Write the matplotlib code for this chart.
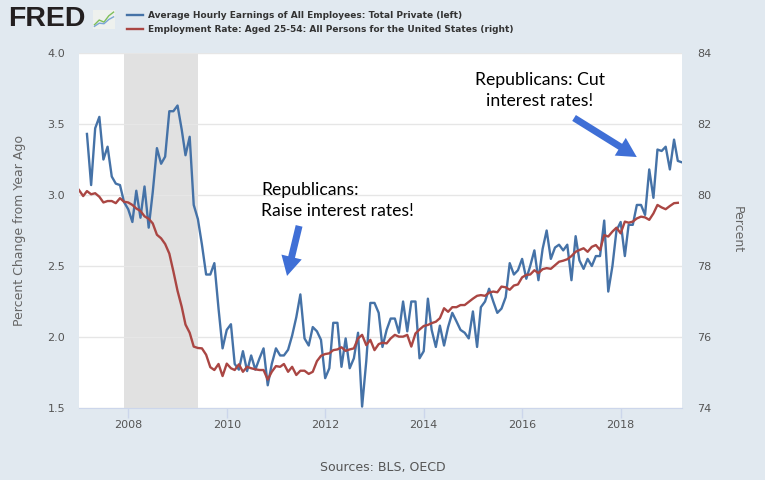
import numpy as np
import pandas as pd
import matplotlib
matplotlib.use('Agg')
import matplotlib.pyplot as plt
import matplotlib.dates as mdates

# Average Hourly Earnings, percent change from year ago (Mar 2007 - Apr 2019)
earn = [3.43, 3.07, 3.47, 3.55, 3.25, 3.34, 3.13, 3.08, 3.07, 2.95,
        2.90, 2.81, 3.03, 2.84, 3.06, 2.77, 3.02, 3.33, 3.22, 3.27, 3.59, 3.59,
        3.63, 3.46, 3.28, 3.41, 2.93, 2.83, 2.65, 2.44, 2.44, 2.52, 2.20, 1.92,
        2.05, 2.09, 1.81, 1.77, 1.90, 1.76, 1.87, 1.77, 1.85, 1.92, 1.66, 1.81,
        1.92, 1.87, 1.87, 1.91, 2.01, 2.14, 2.30, 1.99, 1.94, 2.07, 2.04, 1.98,
        1.71, 1.78, 2.10, 2.10, 1.79, 1.99, 1.78, 1.85, 2.03, 1.51, 1.83, 2.24,
        2.24, 2.17, 1.93, 2.05, 2.13, 2.13, 2.03, 2.25, 2.04, 2.25, 2.25, 1.85,
        1.90, 2.27, 2.05, 1.93, 2.08, 1.94, 2.07, 2.17, 2.11, 2.05, 2.03, 1.99,
        2.18, 1.93, 2.21, 2.25, 2.34, 2.25, 2.17, 2.20, 2.28, 2.52, 2.44, 2.47,
        2.55, 2.41, 2.50, 2.61, 2.40, 2.62, 2.75, 2.55, 2.63, 2.65, 2.61, 2.65,
        2.40, 2.71, 2.54, 2.48, 2.55, 2.50, 2.57, 2.57, 2.82, 2.32, 2.50, 2.75,
        2.81, 2.57, 2.79, 2.79, 2.93, 2.93, 2.86, 3.18, 2.98, 3.32, 3.31, 3.34,
        3.18, 3.39, 3.24, 3.23]

# Employment rate aged 25-54, percent (Jan 2007 - Mar 2019)
emp = [80.14, 79.97, 80.11, 80.02, 80.05, 79.95, 79.79, 79.83, 79.83, 79.77,
       79.91, 79.81, 79.79, 79.72, 79.62, 79.55, 79.40, 79.33, 79.20, 78.88,
       78.78, 78.62, 78.35, 77.85, 77.30, 76.85, 76.35, 76.12, 75.73, 75.69,
       75.68, 75.50, 75.15, 75.07, 75.24, 74.90, 75.25, 75.12, 75.07, 75.23,
       75.02, 75.16, 75.12, 75.09, 75.07, 75.07, 74.80, 75.02, 75.18, 75.16,
       75.24, 75.02, 75.16, 74.93, 75.05, 75.05, 74.96, 75.02, 75.32, 75.47,
       75.52, 75.54, 75.63, 75.65, 75.71, 75.61, 75.65, 75.68, 75.96, 76.06,
       75.77, 75.92, 75.63, 75.80, 75.84, 75.82, 75.96, 76.06, 76.01, 76.01,
       76.06, 75.73, 76.10, 76.21, 76.31, 76.34, 76.39, 76.43, 76.53, 76.81,
       76.71, 76.84, 76.84, 76.90, 76.90, 76.99, 77.08, 77.16, 77.18, 77.16,
       77.25, 77.28, 77.26, 77.42, 77.40, 77.33, 77.45, 77.48, 77.68, 77.75,
       77.76, 77.88, 77.80, 77.91, 77.94, 77.92, 78.02, 78.12, 78.15, 78.19,
       78.28, 78.40, 78.45, 78.50, 78.40, 78.54, 78.59, 78.45, 78.87, 78.83,
       78.97, 79.08, 78.92, 79.25, 79.22, 79.25, 79.34, 79.39, 79.37, 79.30,
       79.48, 79.72, 79.65, 79.60, 79.69, 79.77, 79.78]

earn_dates = pd.date_range('2007-03-01', periods=len(earn), freq='MS')
emp_dates = pd.date_range('2007-01-01', periods=len(emp), freq='MS')
rec_start, rec_end = pd.Timestamp('2007-12-01'), pd.Timestamp('2009-06-01')

blue = '#4572a7'
red = '#aa4643'
arrow_col = '#3f6fd6'

fig = plt.figure(figsize=(7.65, 4.8), dpi=100, facecolor='#e1e9f0')
ax = fig.add_axes([79/765, 72/480, 603/765, 355/480])
ax.set_facecolor('white')
ax2 = ax.twinx()

ax.axvspan(rec_start, rec_end, color='#e1e1e1', lw=0, zorder=0)
l1, = ax.plot(earn_dates, earn, color=blue, lw=1.7, zorder=3)
l2, = ax2.plot(emp_dates, emp, color=red, lw=1.7, zorder=3)

ax.set_xlim(pd.Timestamp('2007-01-01'), pd.Timestamp('2019-04-01'))
ax.set_ylim(1.5, 4.0)
ax.set_yticks(np.arange(1.5, 4.01, 0.5))
ax.yaxis.set_major_formatter(matplotlib.ticker.FormatStrFormatter('%.1f'))
ax2.set_ylim(74, 84)
ax2.set_yticks(np.arange(74, 85, 2))

ax.xaxis.set_major_locator(mdates.YearLocator(2))
ax.xaxis.set_major_formatter(mdates.DateFormatter('%Y'))
ax.yaxis.grid(True, color='#e6e6e6', lw=1)
ax.set_axisbelow(True)

for a in (ax, ax2):
    for s in a.spines.values():
        s.set_visible(False)
ax.spines['bottom'].set_visible(True)
ax.spines['bottom'].set_color('#ccd6eb')

ax.tick_params(axis='x', length=7, width=1, color='#ccd6eb', pad=2,
               labelsize=8, labelcolor='#555555')
ax.tick_params(axis='y', length=0, pad=10, labelsize=8, labelcolor='#555555')
ax2.tick_params(axis='y', length=0, pad=11, labelsize=8, labelcolor='#555555')

fig.text(20/765, 1 - 230/480, 'Percent Change from Year Ago', rotation=90,
         ha='center', va='center', fontsize=9, color='#666666')
fig.text(737/765, 1 - 230/480, 'Percent', rotation=270,
         ha='center', va='center', fontsize=9, color='#666666')
fig.text(383/765, 1 - 467/480, 'Sources: BLS, OECD', ha='center', va='center',
         fontsize=9, color='#555555')

# annotations
ax.text(0.302, 0.637, 'Republicans:\nRaise interest rates!', transform=ax.transAxes,
        ha='left', va='top', fontsize=12.7, family='Lato', color='black',
        linespacing=1.4)
ax.text(0.764, 0.947, 'Republicans: Cut\ninterest rates!', transform=ax.transAxes,
        ha='center', va='top', fontsize=12.7, family='Lato', color='black',
        multialignment='center', linespacing=1.4)
arrow_kw = dict(width=5, headwidth=15, headlength=14, color=arrow_col, lw=0)
ax.annotate('', xy=(0.345, 0.372), xytext=(0.365, 0.513), xycoords='axes fraction',
            textcoords='axes fraction', arrowprops=arrow_kw)
ax.annotate('', xy=(0.925, 0.707), xytext=(0.821, 0.817), xycoords='axes fraction',
            textcoords='axes fraction', arrowprops=arrow_kw)

# header: FRED logo and legend
fig.text(8/765, 1 - 19/480, 'FRED', fontsize=20.5, fontweight='bold',
         family='Liberation Sans', color='#231f20', ha='left', va='center')
icon = fig.add_axes([93/765, 1 - 29/480, 22/765, 19/480])
icon.set_facecolor('#eef1ee')
icon.plot([0, 1, 2, 3, 4], [0.5, 1.4, 1.0, 2.2, 2.9], color='#7fbf5a', lw=1)
icon.plot([0, 1, 2, 3, 4], [0.2, 0.8, 0.7, 1.5, 2.0], color='#7aa6d6', lw=1)
icon.set_xlim(-0.3, 4.3)
icon.set_ylim(-0.3, 3.3)
icon.set_xticks([])
icon.set_yticks([])
for s in icon.spines.values():
    s.set_visible(False)

leg = fig.legend([l1, l2],
                 ['Average Hourly Earnings of All Employees: Total Private (left)',
                  'Employment Rate: Aged 25-54: All Persons for the United States (right)'],
                 loc='upper left', bbox_to_anchor=(127/765, 1 - 11/480), frameon=False,
                 fontsize=6.5, handlelength=1.75, handletextpad=0.6, labelspacing=0.55,
                 borderaxespad=0, borderpad=0)
for t in leg.get_texts():
    t.set_color('#333333')
    t.set_fontweight('bold')

fig.savefig('out.png', dpi=100, facecolor=fig.get_facecolor())
